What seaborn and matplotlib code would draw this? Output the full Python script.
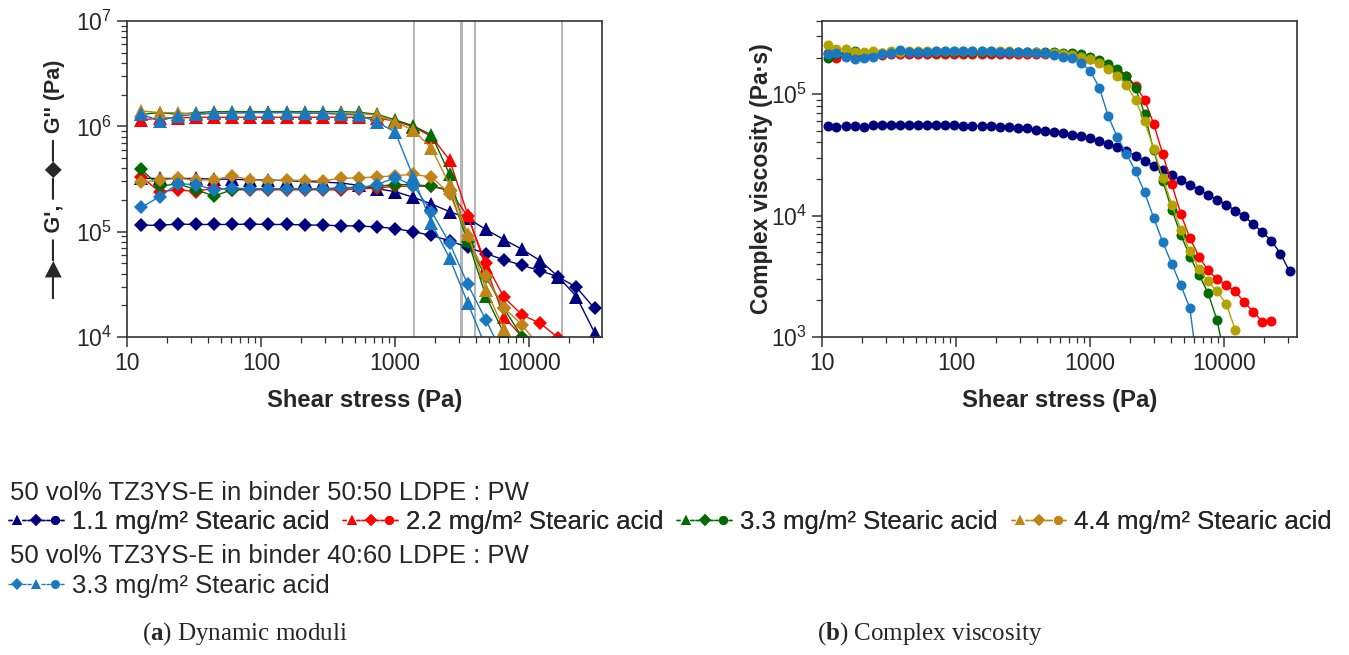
import matplotlib
matplotlib.use("Agg")
import matplotlib.pyplot as plt
import seaborn as sns
import numpy as np
import pandas as pd
from matplotlib.lines import Line2D
from matplotlib.legend_handler import HandlerTuple
from matplotlib.ticker import FuncFormatter, LogLocator, NullFormatter, LogFormatterSciNotation

# ---------------- data ----------------
# shear stress (Pa) of the complex-viscosity points
x_visc = [11.0, 12.8, 15.0, 17.5, 20.5, 23.9, 28.0, 32.7, 38.2, 44.6, 52.1, 60.9, 71.2,
          83.1, 97.1, 113.5, 132.6, 155.0, 181.1, 211.5, 247.2, 288.9, 337.5, 394.4,
          460.8, 538.3, 629.0, 734.9, 858.7, 1003, 1172, 1369, 1600, 1870, 2184, 2553,
          2983, 3485, 4072, 4758, 5559, 6495, 7589, 8868, 10360, 12110, 14150, 16530,
          19310, 22560, 26360, 30800]
# shear stress of the plotted moduli markers
x_mod = [12.8, 17.5, 23.9, 32.7, 44.6, 60.9, 83.1, 113.5, 155.0, 211.5, 288.9, 394.4,
         538.3, 734.9, 1003, 1369, 1870, 2553, 3485, 4758, 6495, 8868, 12110, 16530,
         22560, 30800]

series_labels = ["1.1 mg/m² Stearic acid", "2.2 mg/m² Stearic acid",
                 "3.3 mg/m² Stearic acid", "4.4 mg/m² Stearic acid",
                 "3.3 mg/m² Stearic acid"]
group_titles = ["50 vol% TZ3YS-E in binder 50:50 LDPE : PW",
                "50 vol% TZ3YS-E in binder 40:60 LDPE : PW"]

# storage modulus G' (Pa)
gp_11 = [3.2e5, 3.2e5, 3.2e5, 3.2e5, 3.15e5, 3.15e5, 3.1e5, 3.1e5, 3.05e5, 3.0e5, 2.95e5,
         2.9e5, 2.75e5, 2.55e5, 2.4e5, 2.12e5, 1.83e5, 1.55e5, 1.34e5, 1.05e5, 8.4e4,
         6.8e4, 5.3e4, 3.73e4, 2.42e4, 1.1e4]
gp_22 = [1.15e6, 1.2e6, 1.2e6, 1.22e6, 1.22e6, 1.22e6, 1.22e6, 1.22e6, 1.22e6, 1.22e6,
         1.22e6, 1.22e6, 1.22e6, 1.2e6, 1.12e6, 9.9e5, 8.0e5, 4.78e5, 1.45e5, 4.6e4,
         1.56e4, 1.0e4, 6.5e3]
gp_33 = [1.3e6, 1.35e6, 1.3e6, 1.35e6, 1.38e6, 1.38e6, 1.38e6, 1.38e6, 1.38e6, 1.38e6,
         1.38e6, 1.38e6, 1.36e6, 1.3e6, 1.15e6, 1.01e6, 8.3e5, 3.5e5, 8.3e4, 2.45e4,
         1.08e4, 5e3]
gp_44 = [1.4e6, 1.35e6, 1.35e6, 1.3e6, 1.35e6, 1.35e6, 1.35e6, 1.35e6, 1.35e6, 1.35e6,
         1.35e6, 1.33e6, 1.32e6, 1.28e6, 1.1e6, 9.2e5, 6.2e5, 2.77e5, 9.6e4, 2.8e4,
         1.2e4, 6e3]
gp_4060 = [1.3e6, 1.13e6, 1.25e6, 1.3e6, 1.33e6, 1.33e6, 1.35e6, 1.35e6, 1.35e6, 1.33e6,
           1.33e6, 1.3e6, 1.28e6, 1.1e6, 8.8e5, 3.3e5, 1.2e5, 5.6e4, 2.1e4, 8e3]

# loss modulus G'' (Pa)
gpp_11 = [1.15e5, 1.15e5, 1.18e5, 1.17e5, 1.17e5, 1.17e5, 1.18e5, 1.17e5, 1.17e5, 1.16e5,
          1.15e5, 1.14e5, 1.13e5, 1.11e5, 1.07e5, 1.0e5, 9.2e4, 8.2e4, 7.1e4, 6.2e4,
          5.4e4, 4.8e4, 4.25e4, 3.73e4, 2.96e4, 1.87e4]
gpp_22 = [3.3e5, 2.4e5, 2.5e5, 2.4e5, 2.6e5, 2.5e5, 2.5e5, 2.5e5, 2.5e5, 2.5e5, 2.5e5,
          2.5e5, 2.55e5, 2.6e5, 2.7e5, 2.7e5, 2.7e5, 2.45e5, 1.4e5, 5.0e4, 2.38e4, 1.62e4,
          1.35e4, 9.8e3]
gpp_33 = [3.9e5, 2.7e5, 2.85e5, 2.5e5, 2.18e5, 2.5e5, 2.55e5, 2.55e5, 2.55e5, 2.55e5,
          2.55e5, 2.6e5, 2.65e5, 2.7e5, 2.8e5, 2.8e5, 2.7e5, 2.5e5, 8.0e4, 3.7e4, 1.87e4,
          1.0e4, 6e3]
gpp_44 = [2.94e5, 3.1e5, 3.2e5, 3.1e5, 3.1e5, 3.4e5, 3.1e5, 3.05e5, 3.1e5, 3.05e5, 3.05e5,
          3.2e5, 3.25e5, 3.3e5, 3.4e5, 3.5e5, 3.3e5, 2.3e5, 9.0e4, 3.8e4, 1.9e4, 1.3e4, 8e3]
gpp_4060 = [1.7e5, 2.15e5, 2.85e5, 2.8e5, 2.5e5, 2.6e5, 2.55e5, 2.55e5, 2.55e5, 2.55e5,
            2.55e5, 2.6e5, 2.6e5, 2.8e5, 3.26e5, 2.74e5, 1.55e5, 7.8e4, 3.16e4, 1.45e4,
            6.5e3]

# complex viscosity (Pa s)
eta_11 = [5.45e4, 5.4e4, 5.45e4, 5.5e4, 5.35e4, 5.55e4, 5.55e4, 5.55e4, 5.6e4, 5.6e4,
          5.6e4, 5.6e4, 5.6e4, 5.55e4, 5.55e4, 5.5e4, 5.5e4, 5.45e4, 5.45e4, 5.4e4,
          5.38e4, 5.31e4, 5.25e4, 5.08e4, 4.99e4, 4.87e4, 4.77e4, 4.63e4, 4.48e4, 4.35e4,
          4.13e4, 3.87e4, 3.64e4, 3.38e4, 3.11e4, 2.82e4, 2.58e4, 2.38e4, 2.14e4, 1.97e4,
          1.79e4, 1.63e4, 1.48e4, 1.35e4, 1.23e4, 1.10e4, 9.84e3, 8.5e3, 7.31e3, 6.21e3,
          4.85e3, 3.47e3]
eta_22 = [2.2e5, 1.98e5, 2.05e5, 2.08e5, 2.05e5, 2.08e5, 2.1e5, 2.12e5, 2.12e5, 2.12e5,
          2.13e5, 2.13e5, 2.13e5, 2.13e5, 2.13e5, 2.13e5, 2.13e5, 2.13e5, 2.13e5, 2.13e5,
          2.13e5, 2.13e5, 2.13e5, 2.13e5, 2.12e5, 2.12e5, 2.1e5, 2.07e5, 2.02e5, 1.95e5,
          1.85e5, 1.72e5, 1.56e5, 1.42e5, 1.17e5, 8.97e4, 5.7e4, 3.21e4, 1.81e4, 1.03e4,
          6.5e3, 4.6e3, 3.53e3, 3.0e3, 2.69e3, 2.37e3, 1.94e3, 1.61e3, 1.34e3, 1.35e3]
eta_33 = [1.98e5, 2.15e5, 2.2e5, 2.25e5, 2.15e5, 2.2e5, 2.2e5, 2.22e5, 2.22e5, 2.22e5,
          2.23e5, 2.23e5, 2.23e5, 2.23e5, 2.23e5, 2.23e5, 2.23e5, 2.23e5, 2.23e5, 2.23e5,
          2.23e5, 2.23e5, 2.23e5, 2.23e5, 2.22e5, 2.22e5, 2.2e5, 2.17e5, 2.12e5, 2.02e5,
          1.9e5, 1.78e5, 1.61e5, 1.42e5, 1.12e5, 6.9e4, 3.44e4, 1.93e4, 1.12e4, 6.95e3,
          4.6e3, 3.26e3, 2.3e3, 1.37e3, 6.0e2]
eta_44 = [2.55e5, 2.35e5, 2.35e5, 2.22e5, 2.22e5, 2.25e5, 2.2e5, 2.25e5, 2.22e5, 2.25e5,
          2.25e5, 2.25e5, 2.25e5, 2.25e5, 2.25e5, 2.25e5, 2.25e5, 2.25e5, 2.25e5, 2.25e5,
          2.25e5, 2.24e5, 2.23e5, 2.22e5, 2.2e5, 2.18e5, 2.15e5, 2.1e5, 2.03e5, 1.93e5,
          1.8e5, 1.61e5, 1.42e5, 1.18e5, 8.98e4, 5.96e4, 3.55e4, 2.04e4, 1.23e4, 7.64e3,
          5.07e3, 3.63e3, 2.87e3, 2.37e3, 1.88e3, 1.15e3]
eta_4060 = [2.13e5, 2.2e5, 2.04e5, 1.94e5, 2.0e5, 2.04e5, 2.13e5, 2.2e5, 2.32e5, 2.22e5,
            2.22e5, 2.24e5, 2.25e5, 2.25e5, 2.25e5, 2.25e5, 2.25e5, 2.25e5, 2.25e5, 2.24e5,
            2.24e5, 2.23e5, 2.22e5, 2.2e5, 2.17e5, 2.1e5, 2.03e5, 1.98e5, 1.8e5, 1.56e5,
            1.13e5, 6.55e4, 4.4e4, 3.23e4, 2.31e4, 1.55e4, 9.6e3, 6.05e3, 4.0e3, 2.66e3,
            1.73e3, 4.5e2]

# crossover stresses (grey vertical lines)
crossovers = [1390, 3100, 3180, 3970, 17700]

# ---------------- style ----------------
sns.set_theme(style="ticks")
plt.rcParams["font.family"] = ["Liberation Sans", "DejaVu Sans"]
plt.rcParams["mathtext.fontset"] = "custom"
plt.rcParams["mathtext.rm"] = "Liberation Serif"
plt.rcParams["mathtext.bf"] = "Liberation Serif:bold"

c_navy = "#00007f"
c_red = "#ff0000"
c_green = "#006b00"
c_gold = "#c08418"
c_olive = "#b3a300"
c_blue = "#1a78c2"

fig = plt.figure(figsize=(13.49, 6.55), dpi=100)
W, H = 1349, 655
ax1 = fig.add_axes([127 / W, 1 - 337 / H, 475 / W, 316 / H])
ax2 = fig.add_axes([822 / W, 1 - 337 / H, 475 / W, 316 / H])

for v in crossovers:
    ax1.axvline(v, color="#b4b4b4", lw=1.4, zorder=0.5)

mod_series = [(gp_11, gpp_11, c_navy), (gp_22, gpp_22, c_red), (gp_33, gpp_33, c_green),
              (gp_44, gpp_44, c_gold), (gp_4060, gpp_4060, c_blue)]
for gp, gpp, col in mod_series:
    sns.lineplot(x=x_mod[:len(gp)], y=gp, ax=ax1, color=col, marker="^", markersize=10,
                 markeredgewidth=0, linewidth=1, estimator=None, sort=False, legend=False)
    sns.lineplot(x=x_mod[:len(gpp)], y=gpp, ax=ax1, color=col, marker="D", markersize=7.5,
                 markeredgewidth=0, linewidth=1, estimator=None, sort=False, legend=False)

visc_series = [(eta_11, c_navy), (eta_22, c_red), (eta_33, c_green), (eta_44, c_olive),
               (eta_4060, c_blue)]
for eta, col in visc_series:
    sns.lineplot(x=x_visc[:len(eta)], y=eta, ax=ax2, color=col, marker="o", markersize=7.2,
                 markeredgewidth=0, linewidth=1, estimator=None, sort=False, legend=False)

for ax in (ax1, ax2):
    ax.set_xscale("log")
    ax.set_yscale("log")
    ax.set_xlim(10, 35000)
    ax.xaxis.set_major_locator(LogLocator(base=10, numticks=10))
    ax.xaxis.set_minor_locator(LogLocator(base=10, subs=np.arange(2, 10), numticks=20))
    ax.xaxis.set_major_formatter(FuncFormatter(lambda v, p: f"{v:g}"))
    ax.xaxis.set_minor_formatter(NullFormatter())
    ax.yaxis.set_major_formatter(LogFormatterSciNotation())
    ax.yaxis.set_minor_formatter(NullFormatter())
    ax.tick_params(which="major", direction="out", length=7, width=1.1, labelsize=16.5,
                   color="#333333", top=False, right=False, pad=4)
    ax.tick_params(which="minor", direction="out", length=4, width=0.9, color="#333333",
                   top=False, right=False)
    for s in ax.spines.values():
        s.set_color("#333333")
        s.set_linewidth(1.2)
    ax.set_xlabel("Shear stress (Pa)", fontsize=17.2, fontweight="bold", labelpad=10)

ax1.set_ylim(1e4, 1e7)
ax2.set_ylim(1e3, 4e5)
ax1.set_ylabel("—\u25B6— G', —\u25C6— G'' (Pa)", fontsize=15.5, fontweight="bold")
ax2.set_ylabel("Complex viscosity (Pa·s)", fontsize=16.5, fontweight="bold")
ax1.yaxis.set_label_coords(-0.131, 0.5)
ax2.yaxis.set_label_coords(-0.104, 0.5)

# ---------------- legend ----------------
def trio(col, order):
    mk = {"t": "^", "d": "D", "c": "o"}
    ms = {"t": 7, "d": 6, "c": 6.5}
    return tuple(Line2D([], [], color=col, marker=mk[k], markersize=ms[k], markeredgewidth=0,
                        linestyle=(0, (3, 2)), linewidth=1) for k in order)

leg_fs = 18.5
fig.text(10 / W, 1 - 500 / H, group_titles[0], fontsize=leg_fs, va="baseline", ha="left")
fig.text(10 / W, 1 - 563 / H, group_titles[1], fontsize=leg_fs, va="baseline", ha="left")

h1 = [trio(c_navy, "tdc"), trio(c_red, "tdc"), trio(c_green, "tdc"), trio(c_gold, "tdc")]
leg1 = fig.legend(h1, series_labels[:4], ncol=4, loc="center left",
                  bbox_to_anchor=(8 / W, 1 - 522 / H), frameon=False, fontsize=leg_fs,
                  handler_map={tuple: HandlerTuple(ndivide=None, pad=0)},
                  handlelength=2.2, handletextpad=0.28, columnspacing=0.5,
                  borderpad=0, borderaxespad=0)
fig.add_artist(leg1)
h2 = [trio(c_blue, "dtc")]
fig.legend(h2, series_labels[4:], ncol=1, loc="center left",
           bbox_to_anchor=(8 / W, 1 - 586 / H), frameon=False, fontsize=leg_fs,
           handler_map={tuple: HandlerTuple(ndivide=None, pad=0)},
           handlelength=2.2, handletextpad=0.28, borderpad=0, borderaxespad=0)

# ---------------- captions ----------------
fig.text(245 / W, 1 - 634 / H, r"($\mathbf{a}$) Dynamic moduli", fontsize=18,
         family="Liberation Serif", ha="center", va="center")
fig.text(930 / W, 1 - 634 / H, r"($\mathbf{b}$) Complex viscosity", fontsize=18,
         family="Liberation Serif", ha="center", va="center")

fig.savefig("out.png", dpi=100)
